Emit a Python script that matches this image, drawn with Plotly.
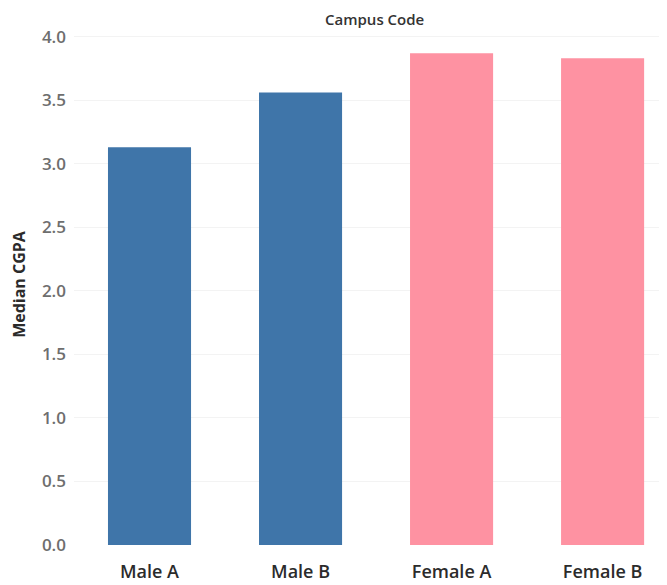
import plotly.graph_objects as go

# Median CGPA by gender and campus
categories = ['Male A', 'Male B', 'Female A', 'Female B']
median_cgpa = [3.13, 3.56, 3.87, 3.83]
bar_colors = ['#3f75a9', '#3f75a9', '#fe92a2', '#fe92a2']
y_ticks = [0, 0.5, 1.0, 1.5, 2.0, 2.5, 3.0, 3.5, 4.0]

fig = go.Figure(go.Bar(
    x=categories, y=median_cgpa,
    marker=dict(color=bar_colors, line=dict(width=0)),
    width=0.55,
    hoverinfo='x+y'
))

fig.update_layout(
    width=667, height=585,
    margin=dict(l=66, r=12, t=16, b=48, autoexpand=False),
    paper_bgcolor='white', plot_bgcolor='white',
    font=dict(family='Open Sans, Noto Sans, sans-serif'),
    showlegend=False,
    xaxis=dict(
        range=[-0.5, 3.4], showgrid=False, zeroline=False, showline=False,
        tickfont=dict(size=18, color='#2b2b2b', weight=600),
        ticks='', ticklabelstandoff=14, automargin=False
    ),
    yaxis=dict(
        range=[0, 4.1], tickvals=y_ticks,
        ticktext=[f'{v:.1f}' for v in y_ticks],
        showgrid=True, gridcolor='#f3f3f3', gridwidth=1,
        zeroline=False, showline=False,
        tickfont=dict(size=17, color='#6e6e6e', weight=600),
        ticks='', ticklabelstandoff=7, automargin=False,
        title=dict(text='Median CGPA', font=dict(size=16, color='#2b2b2b', weight=700),
                   standoff=12)
    ),
    annotations=[dict(
        text='Campus Code', x=0.5, xref='paper', y=1, yref='paper',
        yanchor='bottom', yshift=-7, xshift=6, showarrow=False,
        font=dict(size=15, color='#333333', weight=600)
    )]
)

fig.write_html("out.html")
